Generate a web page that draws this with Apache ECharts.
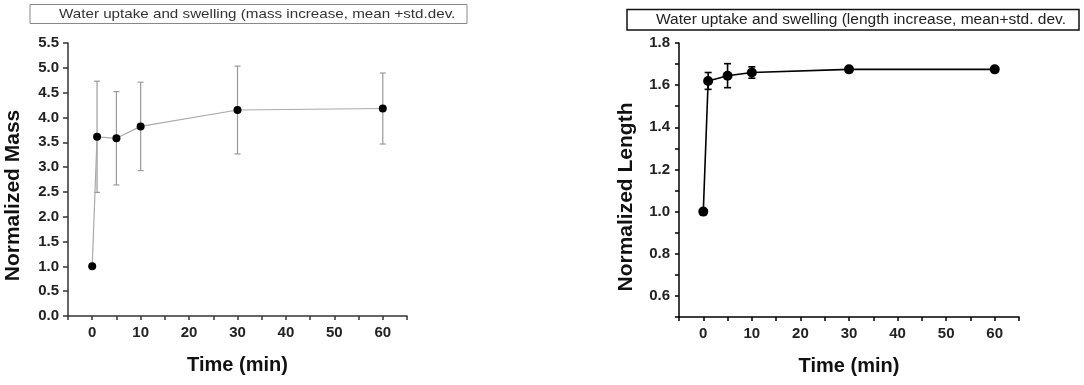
<!DOCTYPE html>
<html>
<head>
<meta charset="utf-8">
<script src="https://cdn.jsdelivr.net/npm/echarts@6/dist/echarts.min.js"></script>
<style>
html,body{margin:0;padding:0;background:#fff;}
#chart{width:1084px;height:385px;}
</style>
</head>
<body>
<div id="chart"></div>
<script>
// ---- data ----
const times = [0, 1, 5, 10, 30, 60];
const massMean = [1.0, 3.61, 3.58, 3.82, 4.15, 4.18];
const massStd = [0, 1.12, 0.94, 0.89, 0.885, 0.715];
const lengthMean = [1.0, 1.62, 1.645, 1.66, 1.675, 1.675];
const lengthStd = [0, 0.04, 0.057, 0.027, 0.011, 0.011];
const massTitle = 'Water uptake and swelling (mass increase, mean +std.dev.';
const lengthTitle = 'Water uptake and swelling (length increase, mean+std. dev.';
const xTicksShown = [0, 10, 20, 30, 40, 50, 60];

const FONT = '"Liberation Sans", Arial, sans-serif';

function pairs(xs, ys) { return xs.map((x, i) => [x, ys[i]]); }
function errData(xs, m, s) {
  const out = [];
  xs.forEach((x, i) => { if (s[i] > 0) out.push([x, m[i] - s[i], m[i] + s[i]]); });
  return out;
}
function errRender(color, capW, lw) {
  return function (params, api) {
    const x = api.value(0), lo = api.value(1), hi = api.value(2);
    const pLo = api.coord([x, lo]);
    const pHi = api.coord([x, hi]);
    const h = capW / 2;
    const style = { stroke: color, lineWidth: lw };
    return {
      type: 'group',
      children: [
        { type: 'line', shape: { x1: pHi[0], y1: pHi[1], x2: pLo[0], y2: pLo[1] }, style },
        { type: 'line', shape: { x1: pHi[0] - h, y1: pHi[1], x2: pHi[0] + h, y2: pHi[1] }, style },
        { type: 'line', shape: { x1: pLo[0] - h, y1: pLo[1], x2: pLo[0] + h, y2: pLo[1] }, style }
      ]
    };
  };
}

function xAxisCfg(gridIndex, color) {
  return {
    type: 'value', gridIndex, min: -5, max: 65, interval: 5,
    name: 'Time (min)', nameLocation: 'middle', nameGap: 39,
    nameTextStyle: { fontFamily: FONT, fontWeight: 'bold', fontSize: 20, color: '#111' },
    axisLine: { show: true, onZero: false, lineStyle: { color, width: 1.5 } },
    axisTick: { show: true, inside: false, length: 4, lineStyle: { color, width: 1.5 } },
    axisLabel: {
      margin: 9, fontFamily: FONT, fontWeight: 'bold', fontSize: 15, color: '#222',
      formatter: v => (xTicksShown.indexOf(Math.round(v)) >= 0 ? String(Math.round(v)) : '')
    },
    splitLine: { show: false }
  };
}

const chart = echarts.init(document.getElementById('chart'), null, { renderer: 'canvas' });
const option = {
  animation: false,
  backgroundColor: '#fff',
  grid: [
    { left: 68, right: 677, top: 43, bottom: 69 },
    { left: 679, right: 65, top: 43, bottom: 68 }
  ],
  xAxis: [xAxisCfg(0, '#333'), xAxisCfg(1, '#000')],
  yAxis: [
    {
      type: 'value', gridIndex: 0, min: 0, max: 5.5, interval: 0.5,
      name: 'Normalized Mass', nameLocation: 'middle', nameGap: 44,
      nameTextStyle: { fontFamily: FONT, fontWeight: 'bold', fontSize: 21, color: '#111', padding: [0, 32, 0, 0] },
      axisLine: { show: true, onZero: false, lineStyle: { color: '#333', width: 1.5 } },
      axisTick: { show: true, length: 5, lineStyle: { color: '#333', width: 1.5 } },
      axisLabel: { margin: 9, fontFamily: FONT, fontWeight: 'bold', fontSize: 15, color: '#222',
        formatter: v => v.toFixed(1) },
      splitLine: { show: false }
    },
    {
      type: 'value', gridIndex: 1, min: 0.5, max: 1.8, interval: 0.1,
      name: 'Normalized Length', nameLocation: 'middle', nameGap: 42,
      nameTextStyle: { fontFamily: FONT, fontWeight: 'bold', fontSize: 21, color: '#111', padding: [0, 34, 0, 0] },
      axisLine: { show: true, onZero: false, lineStyle: { color: '#000', width: 1.5 } },
      axisTick: { show: true, length: 4, lineStyle: { color: '#000', width: 1.5 } },
      axisLabel: { margin: 9, fontFamily: FONT, fontWeight: 'bold', fontSize: 15, color: '#222',
        formatter: v => (Math.round(v * 10) % 2 === 0 ? v.toFixed(1) : '') },
      splitLine: { show: false }
    }
  ],
  graphic: [
    { type: 'rect', shape: { x: 30, y: 4.5, width: 437, height: 19 },
      style: { fill: '#fff', stroke: '#888', lineWidth: 1 } },
    { type: 'text', x: 59, y: 14.5, scaleX: 1.125,
      style: { text: massTitle, fill: '#333', font: '13.5px ' + FONT, verticalAlign: 'middle' } },
    { type: 'rect', shape: { x: 627, y: 9.5, width: 452, height: 20.5 },
      style: { fill: '#fff', stroke: '#111', lineWidth: 1.5 } },
    { type: 'text', x: 656, y: 20, scaleX: 1.108,
      style: { text: lengthTitle, fill: '#222', font: '14px ' + FONT, verticalAlign: 'middle' } }
  ],
  series: [
    {
      type: 'custom', xAxisIndex: 0, yAxisIndex: 0, z: 1,
      renderItem: errRender('#999', 6, 1.2),
      encode: { x: 0, y: [1, 2] },
      data: errData(times, massMean, massStd)
    },
    {
      type: 'line', xAxisIndex: 0, yAxisIndex: 0, z: 3,
      data: pairs(times, massMean),
      symbol: 'circle', symbolSize: 8,
      lineStyle: { color: '#aaa', width: 1.2 },
      itemStyle: { color: '#000' }
    },
    {
      type: 'custom', xAxisIndex: 1, yAxisIndex: 1, z: 1,
      renderItem: errRender('#000', 7, 1.6),
      encode: { x: 0, y: [1, 2] },
      data: errData(times, lengthMean, lengthStd)
    },
    {
      type: 'line', xAxisIndex: 1, yAxisIndex: 1, z: 3,
      data: pairs(times, lengthMean),
      symbol: 'circle', symbolSize: 10,
      lineStyle: { color: '#000', width: 1.6 },
      itemStyle: { color: '#000' }
    }
  ]
};
chart.setOption(option);
</script>
</body>
</html>
